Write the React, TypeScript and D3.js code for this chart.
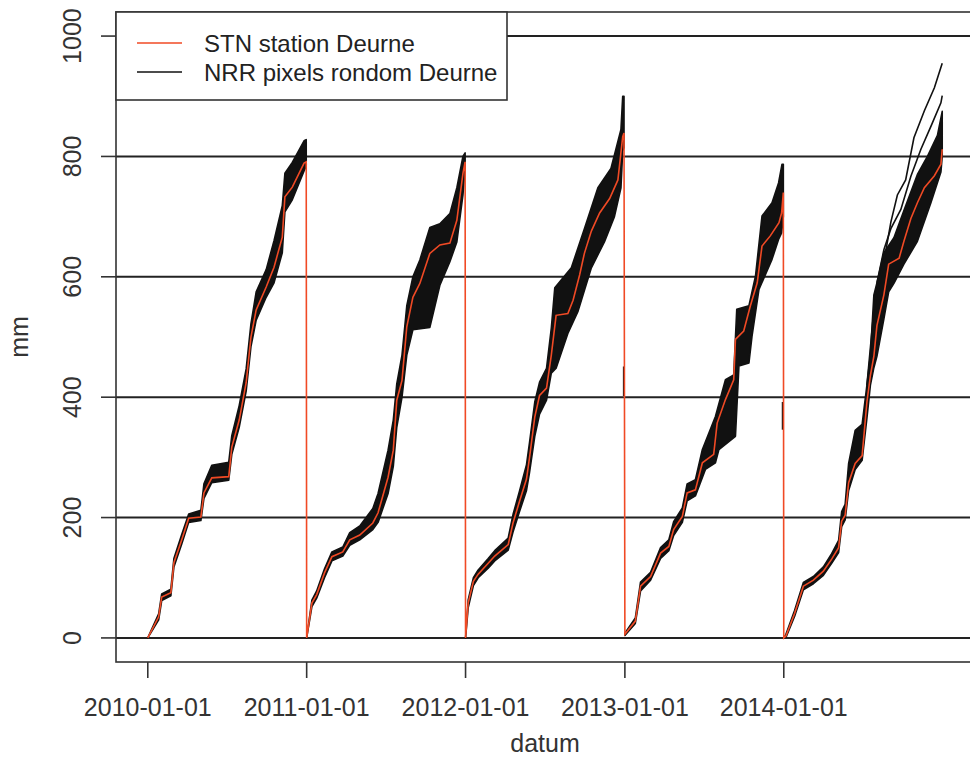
// @ts-nocheck
import React, { useEffect, useRef } from 'react';
import * as d3 from 'd3';

// cumulative rain per year, [day of year, mm]
const stn2010 = [[0,0],[25,35],[32,68],[53,75],[60,125],[78,163],[94,199],[122,201],[129,241],[147,266],[186,268],[193,317],[210,362],[226,424],[237,500],[249,545],[272,583],[290,616],[309,666],[315,733],[332,749],[359,789],[364,791]];
const hi2010 = [[0,0],[25,40],[32,73],[53,81],[60,132],[78,172],[94,206],[122,212],[129,256],[147,287],[186,292],[193,336],[210,386],[226,447],[237,522],[249,575],[272,612],[290,660],[309,718],[315,772],[332,790],[359,826],[364,828]];
const lo2010 = [[0,0],[25,30],[32,62],[53,70],[60,118],[78,156],[94,192],[122,195],[129,232],[147,258],[186,262],[193,305],[210,350],[226,410],[237,484],[249,528],[272,566],[290,590],[309,640],[315,708],[332,728],[359,776],[364,784]];

const stn2011 = [[0,0],[12,58],[23,72],[41,108],[58,135],[83,143],[99,163],[122,171],[152,191],[164,208],[187,267],[199,312],[207,395],[219,428],[230,517],[244,566],[260,589],[283,639],[306,653],[329,656],[345,694],[359,772],[364,791]];
const hi2011 = [[0,0],[12,63],[23,78],[41,115],[58,143],[83,151],[99,175],[122,186],[152,215],[164,240],[187,312],[199,362],[207,422],[219,470],[230,552],[244,600],[260,628],[283,682],[306,688],[329,705],[345,748],[359,800],[364,806]];
const lo2011 = [[0,0],[12,52],[23,66],[41,100],[58,128],[83,136],[99,154],[122,163],[152,180],[164,192],[187,240],[199,285],[207,350],[219,400],[230,470],[244,512],[283,516],[306,586],[329,625],[345,658],[359,736],[364,780]];

const stn2012 = [[0,0],[6,58],[18,94],[29,106],[52,124],[67,136],[98,155],[109,191],[124,227],[140,264],[147,300],[159,367],[170,403],[186,415],[197,470],[208,536],[235,539],[247,561],[262,603],[273,639],[289,676],[308,706],[331,730],[350,761],[361,833],[364,839]];
const hi2012 = [[0,0],[6,63],[18,100],[29,113],[52,132],[67,145],[98,166],[109,205],[124,244],[140,288],[147,325],[159,392],[170,425],[186,448],[197,515],[205,582],[243,615],[273,680],[304,748],[334,780],[357,845],[361,900],[364,900]];
const lo2012 = [[0,0],[6,50],[18,87],[29,100],[52,116],[67,128],[98,146],[109,176],[124,210],[140,245],[147,275],[159,335],[170,372],[186,395],[197,440],[208,448],[235,506],[258,542],[289,615],[319,658],[342,700],[357,748],[361,809],[364,815]];

const stn2013 = [[0,6],[24,28],[36,86],[59,102],[82,141],[101,152],[112,180],[132,202],[143,241],[162,246],[178,291],[204,305],[212,357],[231,396],[250,429],[254,496],[273,510],[288,551],[304,590],[315,651],[334,668],[354,690],[360,706],[364,740]];
const hi2013 = [[0,8],[24,33],[36,93],[59,109],[82,150],[101,163],[112,193],[132,216],[143,256],[162,263],[178,313],[208,368],[231,429],[250,437],[257,546],[285,552],[300,601],[315,701],[338,723],[353,756],[361,787],[364,787]];
const lo2013 = [[0,4],[24,24],[36,78],[59,96],[82,132],[101,145],[112,170],[132,192],[143,228],[162,236],[185,280],[208,291],[216,313],[254,335],[262,452],[285,457],[292,501],[308,579],[338,629],[353,662],[360,673],[364,700]];

const stn2014 = [[0,0],[5,3],[25,41],[45,86],[68,96],[91,111],[110,131],[126,150],[133,194],[141,204],[149,258],[164,290],[180,303],[191,392],[199,436],[207,468],[214,519],[230,570],[241,621],[265,631],[276,659],[292,697],[307,723],[323,748],[346,768],[361,787],[364,812]];
const hi2014 = [[0,0],[5,6],[25,46],[45,92],[68,102],[91,118],[110,140],[126,162],[133,210],[141,222],[149,290],[164,345],[180,355],[191,420],[199,470],[207,570],[214,590],[230,640],[253,665],[276,710],[307,770],[330,800],[353,835],[364,875]];
const lo2014 = [[0,0],[5,1],[25,36],[45,80],[68,90],[91,104],[110,124],[126,142],[133,185],[141,196],[149,245],[164,280],[180,295],[191,365],[199,420],[207,449],[214,468],[230,530],[241,575],[253,589],[276,621],[307,659],[338,723],[361,774],[364,800]];
// two pixels that run well above the rest in 2014
const out2014a = [[191,420],[207,545],[230,625],[246,691],[261,736],[280,761],[299,831],[323,876],[346,914],[364,955]];
const out2014b = [[214,590],[230,645],[246,680],[269,712],[292,767],[315,812],[338,850],[361,889],[364,901]];

// short black pieces at the year change
const stubs = [["2013-01-01", 402, 451], ["2014-01-01", 346, 392]];

const years = [2010, 2011, 2012, 2013, 2014];
const stnByYear = [stn2010, stn2011, stn2012, stn2013, stn2014];
const hiByYear = [hi2010, hi2011, hi2012, hi2013, hi2014];
const loByYear = [lo2010, lo2011, lo2012, lo2013, lo2014];
const xTicks = ["2010-01-01", "2011-01-01", "2012-01-01", "2013-01-01", "2014-01-01"];
const yTicks = [0, 200, 400, 600, 800, 1000];

const width = 970, height = 757;
const left = 116, right = 974, top = 12, bottom = 662;
const font = "'Liberation Sans', Arial, sans-serif";
const fs = 25;
const red = "#f04a25";

function App() {
  const ref = useRef(null);

  useEffect(() => {
    const parse = d3.timeParse("%Y-%m-%d");
    const toDate = (year, day) => d3.timeDay.offset(new Date(year, 0, 1), day);

    // R style: data range stretched by 4% on each side
    const t0 = new Date(2010, 0, 1), t1 = new Date(2014, 11, 31);
    const pad = (t1 - t0) * 0.04;
    const x = d3.scaleTime()
      .domain([new Date(+t0 - pad), new Date(+t1 + pad)])
      .range([left, right]);
    const y = d3.scaleLinear().domain([-40, 1040]).range([bottom, top]);

    const svg = d3.select(ref.current);
    svg.selectAll("*").remove();

    /* grid */
    svg.append("g")
      .selectAll("line")
      .data(yTicks)
      .join("line")
      .attr("x1", left).attr("x2", right)
      .attr("y1", d => y(d)).attr("y2", d => y(d))
      .attr("stroke", "#222").attr("stroke-width", 2);

    const line = d3.line()
      .x(d => x(d[0]))
      .y(d => y(d[1]));

    /* pixel bands */
    const bands = svg.append("g");
    years.forEach((yr, i) => {
      const hi = hiByYear[i].map(p => [toDate(yr, p[0]), p[1]]);
      const lo = loByYear[i].map(p => [toDate(yr, p[0]), p[1]]).reverse();
      bands.append("path")
        .attr("d", line(hi.concat(lo)) + "Z")
        .attr("fill", "#111")
        .attr("stroke", "#111")
        .attr("stroke-width", 1.6)
        .attr("stroke-linejoin", "round");
    });
    [out2014a, out2014b].forEach(s => {
      bands.append("path")
        .attr("d", line(s.map(p => [toDate(2014, p[0]), p[1]])))
        .attr("fill", "none")
        .attr("stroke", "#111")
        .attr("stroke-width", 1.6);
    });
    bands.selectAll(".stub")
      .data(stubs)
      .join("line")
      .attr("x1", d => x(parse(d[0])) - 1).attr("x2", d => x(parse(d[0])) - 1)
      .attr("y1", d => y(d[1])).attr("y2", d => y(d[2]))
      .attr("stroke", "#111").attr("stroke-width", 2);

    /* station line, one piece across the years */
    const stn = [];
    years.forEach((yr, i) => stnByYear[i].forEach(p => stn.push([toDate(yr, p[0]), p[1]])));
    svg.append("path")
      .attr("d", line(stn))
      .attr("fill", "none")
      .attr("stroke", red)
      .attr("stroke-width", 1.6);

    /* box and axes */
    svg.append("rect")
      .attr("x", left).attr("y", top)
      .attr("width", right - left).attr("height", bottom - top)
      .attr("fill", "none").attr("stroke", "#333").attr("stroke-width", 1.6);

    const xa = svg.append("g");
    xa.selectAll("line")
      .data(xTicks)
      .join("line")
      .attr("x1", d => x(parse(d))).attr("x2", d => x(parse(d)))
      .attr("y1", bottom).attr("y2", bottom + 16)
      .attr("stroke", "#333").attr("stroke-width", 1.6);
    xa.selectAll("text")
      .data(xTicks)
      .join("text")
      .attr("x", d => x(parse(d)))
      .attr("y", 716)
      .attr("text-anchor", "middle")
      .style("font", `${fs}px ${font}`)
      .attr("fill", "#333")
      .text(d => d);

    const ya = svg.append("g");
    ya.selectAll("line")
      .data(yTicks)
      .join("line")
      .attr("x1", left - 15).attr("x2", left)
      .attr("y1", d => y(d)).attr("y2", d => y(d))
      .attr("stroke", "#333").attr("stroke-width", 1.6);
    ya.selectAll("text")
      .data(yTicks)
      .join("text")
      .attr("transform", d => `translate(81,${y(d)}) rotate(-90)`)
      .attr("text-anchor", "middle")
      .style("font", `${fs}px ${font}`)
      .attr("fill", "#333")
      .text(d => d);

    svg.append("text")
      .attr("transform", `translate(28,${(top + bottom) / 2}) rotate(-90)`)
      .attr("text-anchor", "middle")
      .style("font", `${fs}px ${font}`)
      .attr("fill", "#333")
      .text("mm");
    svg.append("text")
      .attr("x", (left + right) / 2).attr("y", 752)
      .attr("text-anchor", "middle")
      .style("font", `${fs}px ${font}`)
      .attr("fill", "#333")
      .text("datum");

    /* legend */
    const lg = svg.append("g");
    lg.append("rect")
      .attr("x", left).attr("y", top)
      .attr("width", 391).attr("height", 88)
      .attr("fill", "white").attr("stroke", "#333").attr("stroke-width", 1.6);
    [["STN station Deurne", red], ["NRR pixels rondom Deurne", "#111"]].forEach((d, i) => {
      const cy = 43 + i * 29;
      lg.append("line")
        .attr("x1", 137).attr("x2", 182)
        .attr("y1", cy).attr("y2", cy)
        .attr("stroke", d[1]).attr("stroke-width", 1.6);
      lg.append("text")
        .attr("x", 204).attr("y", cy + 9)
        .style("font", `24px ${font}`)
        .attr("fill", "#222")
        .text(d[0]);
    });
  }, []);

  return (
    <svg ref={ref} width={width} height={height}
      style={{ position: "absolute", left: 0, top: 0, background: "white" }} />
  );
}

export default App;
